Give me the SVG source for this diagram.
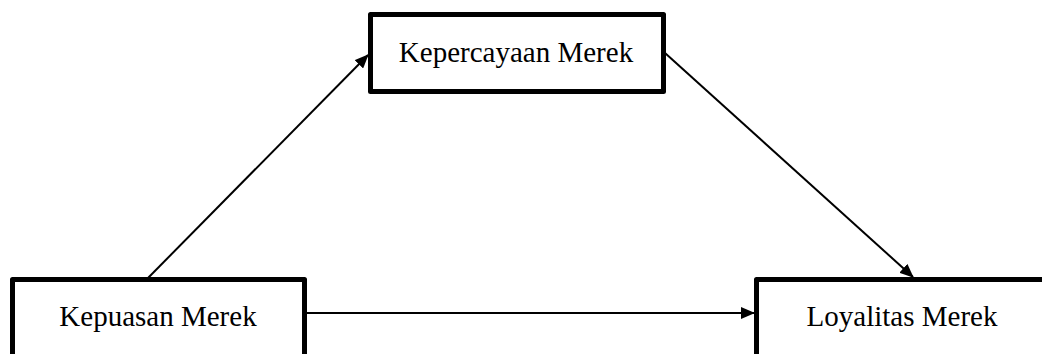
<svg xmlns="http://www.w3.org/2000/svg" width="1042" height="354" viewBox="0 0 1042 354">
  <style>
    .box { fill: #ffffff; stroke: #000000; stroke-width: 5; stroke-linejoin: round; }
    .label { font-family: "Liberation Serif", "Times New Roman", serif; font-size: 29px; fill: #000000; text-anchor: middle; }
    .link { stroke: #000000; stroke-width: 2; fill: none; marker-end: url(#arrow); }
  </style>
  <defs>
    <marker id="arrow" markerWidth="14" markerHeight="12" refX="13" refY="6" orient="auto" markerUnits="userSpaceOnUse">
      <path d="M0,0 L14,6 L0,12 Z" fill="#000000"/>
    </marker>
  </defs>
  <rect width="1042" height="354" fill="#ffffff"/>

  <g id="connectors">
    <line class="link" x1="148" y1="278" x2="368" y2="55"/>
    <line class="link" x1="665" y1="53" x2="913" y2="277"/>
    <line class="link" x1="305" y1="313" x2="754" y2="313"/>
  </g>

  <g id="node-kepercayaan">
    <rect class="box" x="370.5" y="14.5" width="293" height="77"/>
    <text class="label" x="516" y="62">Kepercayaan Merek</text>
  </g>

  <g id="node-kepuasan">
    <rect class="box" x="12.5" y="279.5" width="292" height="90"/>
    <text class="label" x="158" y="326">Kepuasan Merek</text>
  </g>

  <g id="node-loyalitas">
    <rect class="box" x="756.5" y="279.5" width="300" height="90"/>
    <text class="label" x="902" y="326">Loyalitas Merek</text>
  </g>
</svg>
